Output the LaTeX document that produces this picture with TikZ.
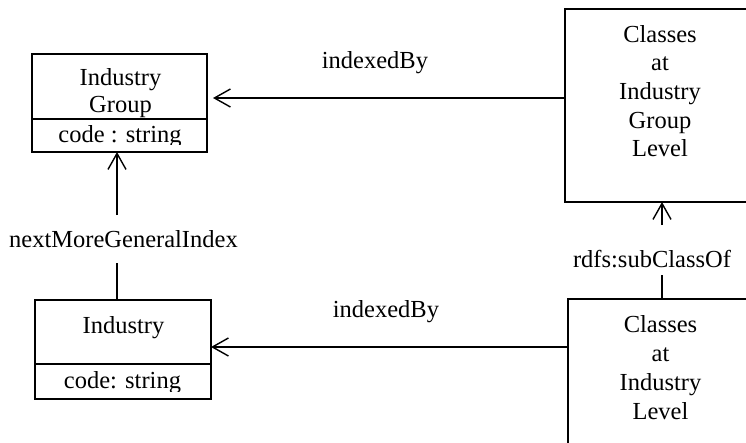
\documentclass[tikz,border=0pt]{standalone}
\usepackage{fontspec}
\setmainfont{Liberation Serif}
\usetikzlibrary{arrows.meta}
\begin{document}
\begin{tikzpicture}[x=1pt,y=-1pt,
  box/.style={draw, line width=1.4pt, inner sep=0pt, outer sep=0pt, anchor=north west},
  txt/.style={anchor=base, inner sep=0pt, font=\fontsize{24.5}{28.7}\selectfont},
  conn/.style={line width=1.4pt},
  arr/.style={conn, -{Straight Barb[length=16pt,width=18pt,line width=1.4pt]}}]
\useasboundingbox (0,0) rectangle (746,442);
\clip (0,0) rectangle (746,442);

% class boxes
\node[box, minimum width=175pt, minimum height=98pt] (ig) at (32,54) {};
\draw[conn] (ig.west |- 0,119) -- (ig.east |- 0,119);
\node[box, minimum width=176pt, minimum height=99pt] (ind) at (35,300) {};
\draw[conn] (ind.west |- 0,364) -- (ind.east |- 0,364);
\node[box, minimum width=220pt, minimum height=193pt] (ctop) at (565,9) {};
\node[box, minimum width=220pt, minimum height=200pt] (clow) at (568,299) {};

% box texts
\node[txt] (ig1) at (120.5,85) {Industry};
\node[txt] (ig2) at (120.5,112) {Group};
\begin{scope}
\clip (32,119) rectangle (207,144);
\node[txt] (ig3) at (120,142) {code : string};
\end{scope}
\node[txt] (in1) at (123.5,333) {Industry};
\begin{scope}
\clip (35,364) rectangle (211,391);
\node[txt] (in3) at (122.5,388) {code: string};
\end{scope}

\node[txt] (ct1) at (660,42) {Classes};
\node[txt] (ct2) at (660,70.7) {at};
\node[txt] (ct3) at (660,99.4) {Industry};
\node[txt] (ct4) at (660,128.1) {Group};
\node[txt] (ct5) at (660,156.8) {Level};

\node[txt] (cl1) at (660.5,332) {Classes};
\node[txt] (cl2) at (660.5,361) {at};
\node[txt] (cl3) at (660.5,390) {Industry};
\node[txt] (cl4) at (660.5,419) {Level};

% connector labels
\node[txt] (l1) at (375,68) {indexedBy};
\node[txt] (l2) at (386,317) {indexedBy};
\node[txt, anchor=base west] (l3) at (9,247) {nextMoreGeneralIndex};
\node[txt] (l4) at (652,267) {rdfs:subClassOf};

% connectors
\draw[arr, shorten >=6pt] (ctop.west |- 0,98) -- (ig.east |- 0,98);
\draw[arr] (clow.west |- 0,347) -- (ind.east |- 0,347);
\draw[conn] (ind.north -| 117,0) -- (117,263);
\draw[arr] (117,215) -- (ig.south -| 117,0);
\draw[conn] (clow.north -| 662,0) -- (662,275);
\draw[arr] (662,225) -- (ctop.south -| 662,0);
\end{tikzpicture}
\end{document}
